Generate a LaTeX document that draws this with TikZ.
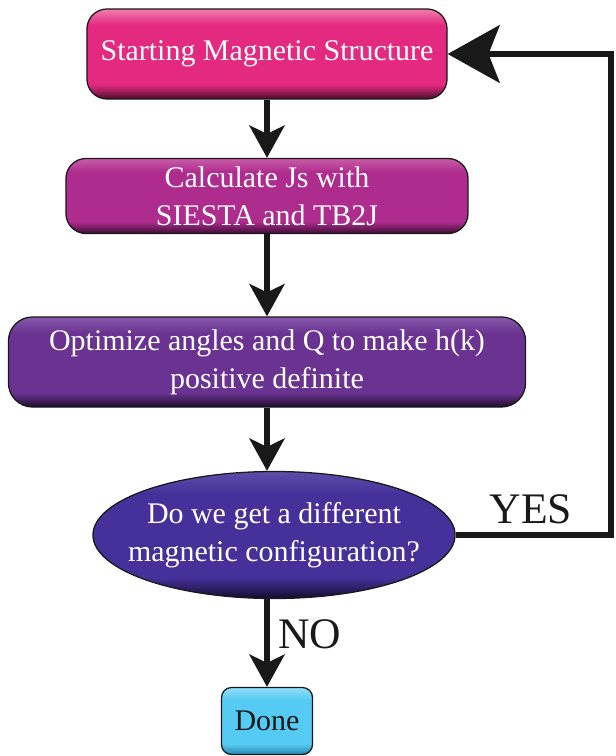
\documentclass[tikz,border=0pt]{standalone}
\usepackage{fontspec}
\setmainfont{Liberation Serif}
\usetikzlibrary{arrows.meta, shapes.geometric, calc}

\definecolor{pinktop}{HTML}{F27CAB}
\definecolor{pinkmain}{HTML}{E42A80}
\definecolor{pinkbot}{HTML}{4A0E2A}
\definecolor{magtop}{HTML}{C95CA8}
\definecolor{magmain}{HTML}{AE2C8E}
\definecolor{magbot}{HTML}{3D0D35}
\definecolor{purptop}{HTML}{8659AA}
\definecolor{purpmain}{HTML}{6A3391}
\definecolor{purpbot}{HTML}{1E0E2E}
\definecolor{indtop}{HTML}{5E4DA8}
\definecolor{indmain}{HTML}{46309A}
\definecolor{indbot}{HTML}{150B2C}
\definecolor{cyantop}{HTML}{92DEF8}
\definecolor{cyanmain}{HTML}{55CBF3}
\definecolor{cyanbot}{HTML}{2A86AE}

% glossy look: light top, flat middle, dark rim at the bottom
\newcommand{\glossy}[4]{%
  \pgfdeclareverticalshading{#1}{100bp}{color(0bp)=(#4); color(25bp)=(#4);
    color(33bp)=(#3); color(66bp)=(#3); color(75bp)=(#2); color(100bp)=(#2)}}
\glossy{pinkglow}{pinktop}{pinkmain}{pinkbot}
\glossy{magglow}{magtop}{magmain}{magbot}
\glossy{purpglow}{purptop}{purpmain}{purpbot}
\glossy{indglow}{indtop}{indmain}{indbot}
\glossy{cyanglow}{cyantop}{cyanmain}{cyanbot}

\begin{document}
\begin{tikzpicture}[x=0.025cm, y=-0.025cm,
    stepnode/.style={rectangle, rounded corners=0.5cm, draw=black!90, line width=0.9pt,
      shade, text=white, align=center, inner sep=0pt, font=\fontsize{21.3}{27}\selectfont},
    flow/.style={draw=black!90, line width=4.3pt, -{Stealth[length=23pt, width=25pt, inset=6pt]}},
    loopback/.style={draw=black!90, line width=4pt, -{Stealth[length=37pt, width=41pt, inset=8pt]}},
    lbl/.style={text=black!90, anchor=base, font=\fontsize{31}{36}\selectfont}]
    \useasboundingbox (0,0) rectangle (616,756);

    \node[stepnode, shading=pinkglow, minimum width=9cm, minimum height=2.25cm] (start) at (267,54)
        {Starting Magnetic Structure};
    \node[stepnode, shading=magglow, minimum width=10.05cm, minimum height=1.875cm] (siesta) at (267,196)
        {Calculate Js with\\SIESTA and TB2J};
    \node[stepnode, shading=purpglow, rounded corners=0.6cm, minimum width=12.925cm, minimum height=2.25cm] (optim) at (267,362)
        {Optimize angles and Q to make h(k)\\positive definite};
    \node[stepnode, ellipse, shading=indglow, inner xsep=-13pt, minimum width=9.05cm, minimum height=3.175cm] (differ) at (274,535)
        {Do we get a different\\magnetic configuration?};
    \node[stepnode, shading=cyanglow, text=black!90, rounded corners=0.25cm, minimum width=2.275cm, minimum height=1.675cm] (done) at (267,721)
        {Done};

    \foreach \from/\to in {start/siesta, siesta/optim}
        \draw[flow] (\from) -- (\to);
    \draw[flow] (optim.south) -- (optim.south |- differ.north);
    \draw[flow] (differ.south -| done.north) -- (done.north);

    \coordinate (corner) at (611,54);
    \draw[loopback] (differ.east) -| (corner) -- (start.east);

    \node[lbl] (yes) at (531,523) {YES};
    \node[lbl] (no) at (310,648) {NO};
\end{tikzpicture}
\end{document}
